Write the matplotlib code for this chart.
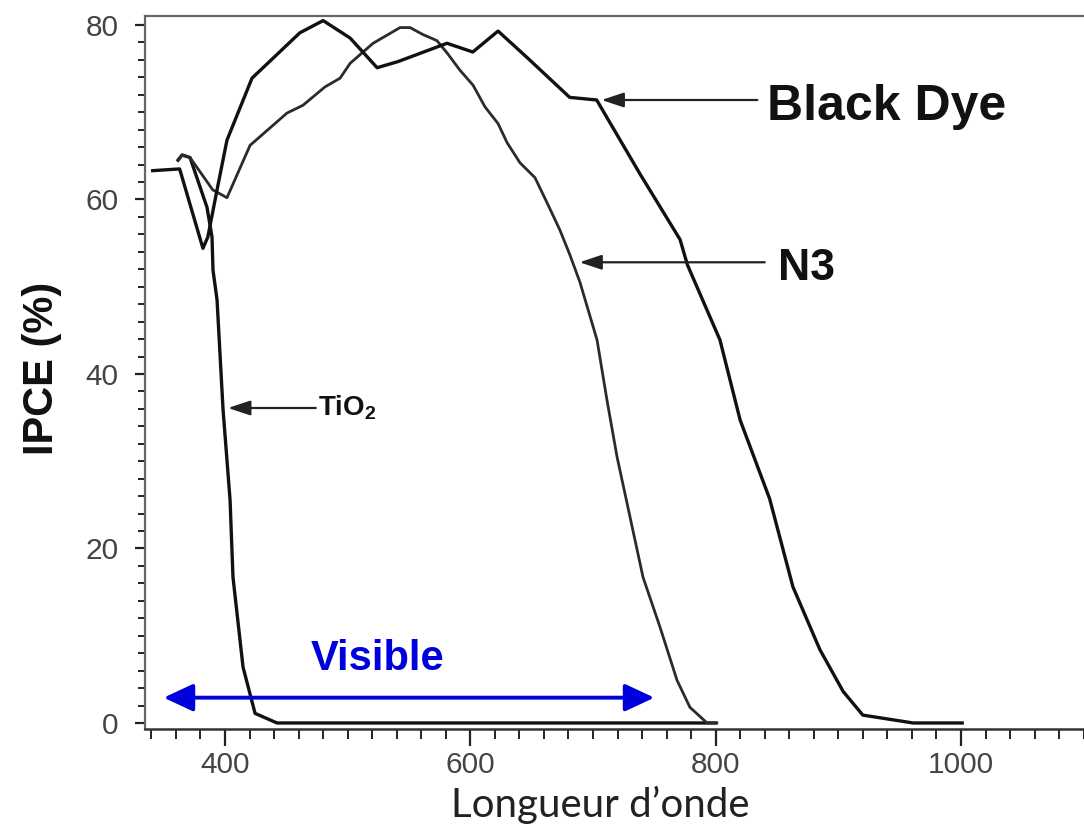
import matplotlib.pyplot as plt
from matplotlib.ticker import MultipleLocator

plt.rcParams['font.family'] = ['Liberation Sans', 'DejaVu Sans']
plt.rcParams['mathtext.fontset'] = 'custom'
plt.rcParams['mathtext.rm'] = 'Liberation Sans'
plt.rcParams['mathtext.bf'] = 'Liberation Sans:bold'

# longueur d'onde (nm) / IPCE (%)
nm_black = [341, 363, 382, 386, 393.5, 401.6, 422, 461, 480, 502, 524, 541, 581, 602, 622.6,
            646, 681, 703, 738, 771, 777, 803.5, 820, 844, 863, 885, 904, 920, 961, 1001]
ipce_black = [63.3, 63.5, 54.4, 55.7, 61.1, 66.8, 73.9, 79.1, 80.5, 78.5, 75.1, 75.8, 77.9, 76.9, 79.3,
              76.3, 71.7, 71.4, 63.0, 55.4, 52.5, 43.9, 34.7, 25.7, 15.6, 8.4, 3.6, 0.9, 0, 0]

nm_n3 = [361.7, 365, 371.5, 390, 401.6, 420.4, 450.5, 463.6, 481.5, 493.8, 502, 520.7, 542.7, 550.8,
         561.4, 572.8, 581, 591.6, 602.2, 612, 622.6, 630, 640.5, 652.7, 663.3, 673, 681.3, 689.4,
         703.3, 711.4, 719.6, 730.2, 740.8, 754.6, 768.5, 779, 793, 801]
ipce_n3 = [64.5, 65.1, 64.8, 61.1, 60.2, 66.2, 69.9, 70.8, 72.9, 73.9, 75.6, 77.9, 79.7, 79.7,
           78.9, 78.2, 76.8, 74.8, 73.1, 70.6, 68.7, 66.5, 64.2, 62.5, 59.4, 56.5, 53.6, 50.5,
           43.9, 37.0, 30.5, 23.6, 16.7, 11.0, 4.9, 1.8, 0, 0]

nm_tio2 = [361.7, 365, 371.5, 385.3, 389.4, 390.2, 393.5, 398.4, 404.1, 406.5, 414.7, 424.5, 442.4, 458.7, 800]
ipce_tio2 = [64.5, 65.1, 64.8, 59.1, 55.7, 51.9, 48.5, 35.9, 25.6, 16.7, 6.4, 1.1, 0, 0, 0]

x_ticks = [400, 600, 800, 1000]
y_ticks = [0, 20, 40, 60, 80]

fig = plt.figure(figsize=(10.84, 8.36), dpi=100)
ax = fig.add_axes([0.1338, 0.128, 0.8662, 0.8529])

ax.plot(nm_tio2, ipce_tio2, color='#111111', lw=2.4, solid_joinstyle='round')
ax.plot(nm_n3, ipce_n3, color='#2b2b2b', lw=2.0, solid_joinstyle='round')
ax.plot(nm_black, ipce_black, color='#111111', lw=2.4, solid_joinstyle='round')

ax.set_xlim(334.8, 1100.3)
ax.set_ylim(-0.69, 81.03)
ax.set_xticks(x_ticks)
ax.set_yticks(y_ticks)
ax.xaxis.set_minor_locator(MultipleLocator(20))
ax.yaxis.set_minor_locator(MultipleLocator(2))
ax.tick_params(axis='x', which='major', length=12, width=1.6, color='#222222',
               labelsize=21.5, labelcolor='#444444', pad=4)
ax.tick_params(axis='x', which='minor', length=7, width=1.4, color='#222222')
ax.tick_params(axis='y', which='major', length=7, width=1.6, color='#222222',
               labelsize=21.5, labelcolor='#444444', pad=12)
ax.tick_params(axis='y', which='minor', length=5, width=1.4, color='#222222')

ax.spines['right'].set_visible(False)
for s in ['left', 'top']:
    ax.spines[s].set_color('#666666')
    ax.spines[s].set_linewidth(1.6)
ax.spines['bottom'].set_color('#333333')
ax.spines['bottom'].set_linewidth(1.8)

# annotations
arrow_kw = dict(arrowstyle='-|>,head_length=0.9,head_width=0.3', mutation_scale=15,
                color='#222222', lw=1.6, shrinkA=0, shrinkB=0)
ax.annotate('', xy=(707, 71.4), xytext=(834, 71.4), arrowprops=arrow_kw)
ax.text(842, 69.1, 'Black Dye', fontsize=36, fontweight='bold', color='#111111', va='baseline')

ax.annotate('', xy=(689, 52.8), xytext=(840, 52.8), arrowprops=arrow_kw)
ax.text(851, 50.8, 'N3', fontsize=32, fontweight='bold', color='#111111', va='baseline')

ax.annotate('', xy=(402.5, 36.1), xytext=(474, 36.1), arrowprops=arrow_kw)
ax.text(475.5, 35.3, r'TiO$_\mathbf{2}$', fontsize=20, fontweight='bold', color='#111111', va='baseline')

ax.annotate('', xy=(350, 2.9), xytext=(750, 2.9),
            arrowprops=dict(arrowstyle='<|-|>,head_length=0.6,head_width=0.28', mutation_scale=30,
                            color='#0000dd', lw=2.8, shrinkA=0, shrinkB=0))
ax.text(524, 6.1, 'Visible', fontsize=30, fontweight='bold', color='#0000dd', ha='center', va='baseline')

fig.text(42 / 1084, 1 - 368 / 836, 'IPCE (%)', rotation=90, fontsize=30, fontweight='bold',
         color='#111111', ha='center', va='center')
fig.text(600 / 1084, 1 - 805 / 836, 'Longueur d\u2019onde', fontsize=29, family=['Lato', 'DejaVu Sans'],
         color='#222222', ha='center', va='center')

plt.savefig('out.png', dpi=100)
